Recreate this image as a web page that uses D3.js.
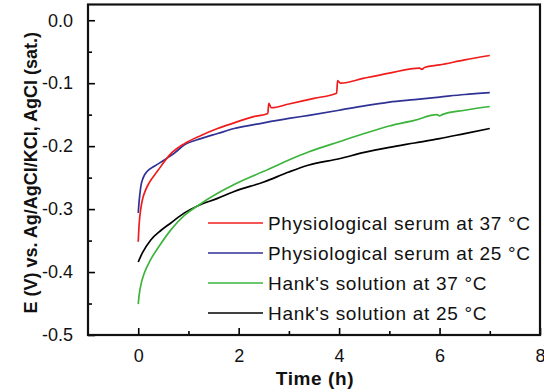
<!DOCTYPE html>
<html>
<head>
<meta charset="utf-8">
<script src="https://cdn.jsdelivr.net/npm/d3@7"></script>
<style>
  html, body { margin: 0; padding: 0; background: #fff; }
  svg { display: block; font-family: "Liberation Sans", Arial, sans-serif; }
</style>
</head>
<body>
<svg id="chart" width="544" height="392"></svg>
<script>
// Open-circuit potential vs. time for four electrolyte / temperature combinations
const seriesNames = [
  "Physiological serum at 37 \u00B0C",
  "Physiological serum at 25 \u00B0C",
  "Hank's solution at 37 \u00B0C",
  "Hank's solution at 25 \u00B0C"
];
const seriesColors = ["#f01c1c", "#2f3194", "#3cb43c", "#000000"];

const serum37Time = [0, 0.02, 0.05, 0.09, 0.14, 0.22, 0.38, 0.65, 0.92, 1.25, 1.58, 1.91, 2.3, 2.58, 2.60, 2.65, 3.0, 3.5, 3.95, 3.97, 4.03, 4.5, 5.0, 5.6, 5.65, 5.7, 6.0, 6.5, 7.0];
const serum37E    = [-0.352, -0.322, -0.300, -0.283, -0.271, -0.258, -0.240, -0.212, -0.196, -0.183, -0.172, -0.163, -0.153, -0.148, -0.132, -0.139, -0.133, -0.124, -0.116, -0.096, -0.100, -0.092, -0.084, -0.076, -0.078, -0.075, -0.071, -0.063, -0.056];

const serum25Time = [0, 0.02, 0.05, 0.1, 0.18, 0.32, 0.52, 0.72, 0.92, 1.25, 1.58, 1.91, 2.5, 3.0, 3.4, 4.0, 4.5, 5.0, 5.5, 6.0, 6.5, 7.0];
const serum25E    = [-0.306, -0.286, -0.265, -0.250, -0.240, -0.232, -0.222, -0.211, -0.198, -0.188, -0.180, -0.172, -0.163, -0.156, -0.151, -0.143, -0.136, -0.130, -0.126, -0.122, -0.118, -0.115];

const hank37Time = [0, 0.02, 0.06, 0.12, 0.25, 0.45, 0.65, 0.92, 1.18, 1.58, 1.91, 2.5, 3.0, 3.4, 4.0, 4.5, 5.0, 5.5, 5.95, 6.0, 6.05, 6.5, 7.0];
const hank37E    = [-0.451, -0.436, -0.418, -0.402, -0.380, -0.355, -0.333, -0.310, -0.295, -0.275, -0.261, -0.240, -0.222, -0.209, -0.193, -0.180, -0.168, -0.159, -0.150, -0.152, -0.150, -0.143, -0.137];

const hank25Time = [0, 0.08, 0.25, 0.45, 0.65, 0.92, 1.18, 1.58, 1.91, 2.5, 3.0, 3.4, 4.0, 4.5, 5.0, 5.5, 6.0, 6.5, 7.0];
const hank25E    = [-0.384, -0.370, -0.349, -0.334, -0.322, -0.306, -0.295, -0.283, -0.272, -0.257, -0.241, -0.230, -0.220, -0.210, -0.202, -0.195, -0.188, -0.180, -0.172];

const xMajorTicks = [0, 2, 4, 6, 8];
const xMinorTicks = [1, 3, 5, 7];
const yMajorTicks = [0.0, -0.1, -0.2, -0.3, -0.4, -0.5];
const yMinorTicks = [-0.05, -0.15, -0.25, -0.35, -0.45];

const series = [
  { time: serum37Time, e: serum37E },
  { time: serum25Time, e: serum25E },
  { time: hank37Time,  e: hank37E },
  { time: hank25Time,  e: hank25E }
].map((s, i) => ({
  name: seriesNames[i],
  color: seriesColors[i],
  points: s.time.map((t, k) => [t, s.e[k]])
}));

const svg = d3.select("#chart");
const plotLeft = 88, plotRight = 540, plotTop = 4.5, plotBottom = 335;

const x = d3.scaleLinear().domain([-1, 8]).range([plotLeft, plotRight]);
const y = d3.scaleLinear().domain([-0.5, 0.025]).range([plotBottom, plotTop]);

// curves
const line = d3.line()
  .x(d => x(d[0]))
  .y(d => y(d[1]))
  .curve(d3.curveMonotoneX);
svg.append("g").selectAll("path")
  .data(series.slice().reverse())
  .join("path")
  .attr("d", d => line(d.points))
  .attr("fill", "none")
  .attr("stroke", d => d.color)
  .attr("stroke-width", 1.7)
  .attr("stroke-linejoin", "round");

// axes with inward ticks
const xAxis = svg.append("g").attr("transform", `translate(0,${plotBottom})`);
xAxis.call(d3.axisBottom(x).tickValues(xMajorTicks).tickSize(-7).tickPadding(14).tickFormat(d3.format("d")));
const xMinor = svg.append("g").attr("transform", `translate(0,${plotBottom})`);
xMinor.call(d3.axisBottom(x).tickValues(xMinorTicks).tickSize(-4).tickFormat(""));

const yAxis = svg.append("g").attr("transform", `translate(${plotLeft},0)`);
yAxis.call(d3.axisLeft(y).tickValues(yMajorTicks).tickSize(-7).tickPadding(15).tickFormat(d => d === 0 ? "0.0" : d3.format(".1f")(d).replace("\u2212", "-")));
const yMinor = svg.append("g").attr("transform", `translate(${plotLeft},0)`);
yMinor.call(d3.axisLeft(y).tickValues(yMinorTicks).tickSize(-4).tickFormat(""));

svg.selectAll(".domain").remove();
svg.selectAll(".tick line").attr("stroke", "#000").attr("stroke-width", 1.6);
svg.selectAll(".tick text").attr("font-size", 18).attr("fill", "#111")
  .attr("font-family", "'Liberation Sans', Arial, sans-serif");

// frame
svg.append("rect")
  .attr("x", plotLeft).attr("y", plotTop)
  .attr("width", plotRight - plotLeft).attr("height", plotBottom - plotTop)
  .attr("fill", "none").attr("stroke", "#111").attr("stroke-width", 2.2);

// axis titles
svg.append("text")
  .attr("x", (plotLeft + plotRight) / 2 + 1).attr("y", 385)
  .attr("text-anchor", "middle")
  .attr("font-size", 19).attr("font-weight", "bold").attr("fill", "#111")
  .attr("letter-spacing", 0.6)
  .text("Time (h)");

svg.append("text")
  .attr("transform", `translate(37,${(plotTop + plotBottom) / 2 + 3}) rotate(-90)`)
  .attr("text-anchor", "middle")
  .attr("font-size", 18).attr("font-weight", "bold").attr("fill", "#111")
  .text("E (V) vs. Ag/AgCl/KCl, AgCl (sat.)");

// legend
const legend = svg.append("g").selectAll("g")
  .data(series)
  .join("g")
  .attr("transform", (d, i) => `translate(208,${223 + i * 30})`);
legend.append("line")
  .attr("x1", 0).attr("x2", 55)
  .attr("stroke", d => d.color).attr("stroke-width", 1.7);
legend.append("text")
  .attr("x", 60).attr("dy", "0.36em")
  .attr("font-size", 19).attr("fill", "#111")
  .attr("letter-spacing", 0.7)
  .text(d => d.name);
</script>
</body>
</html>
